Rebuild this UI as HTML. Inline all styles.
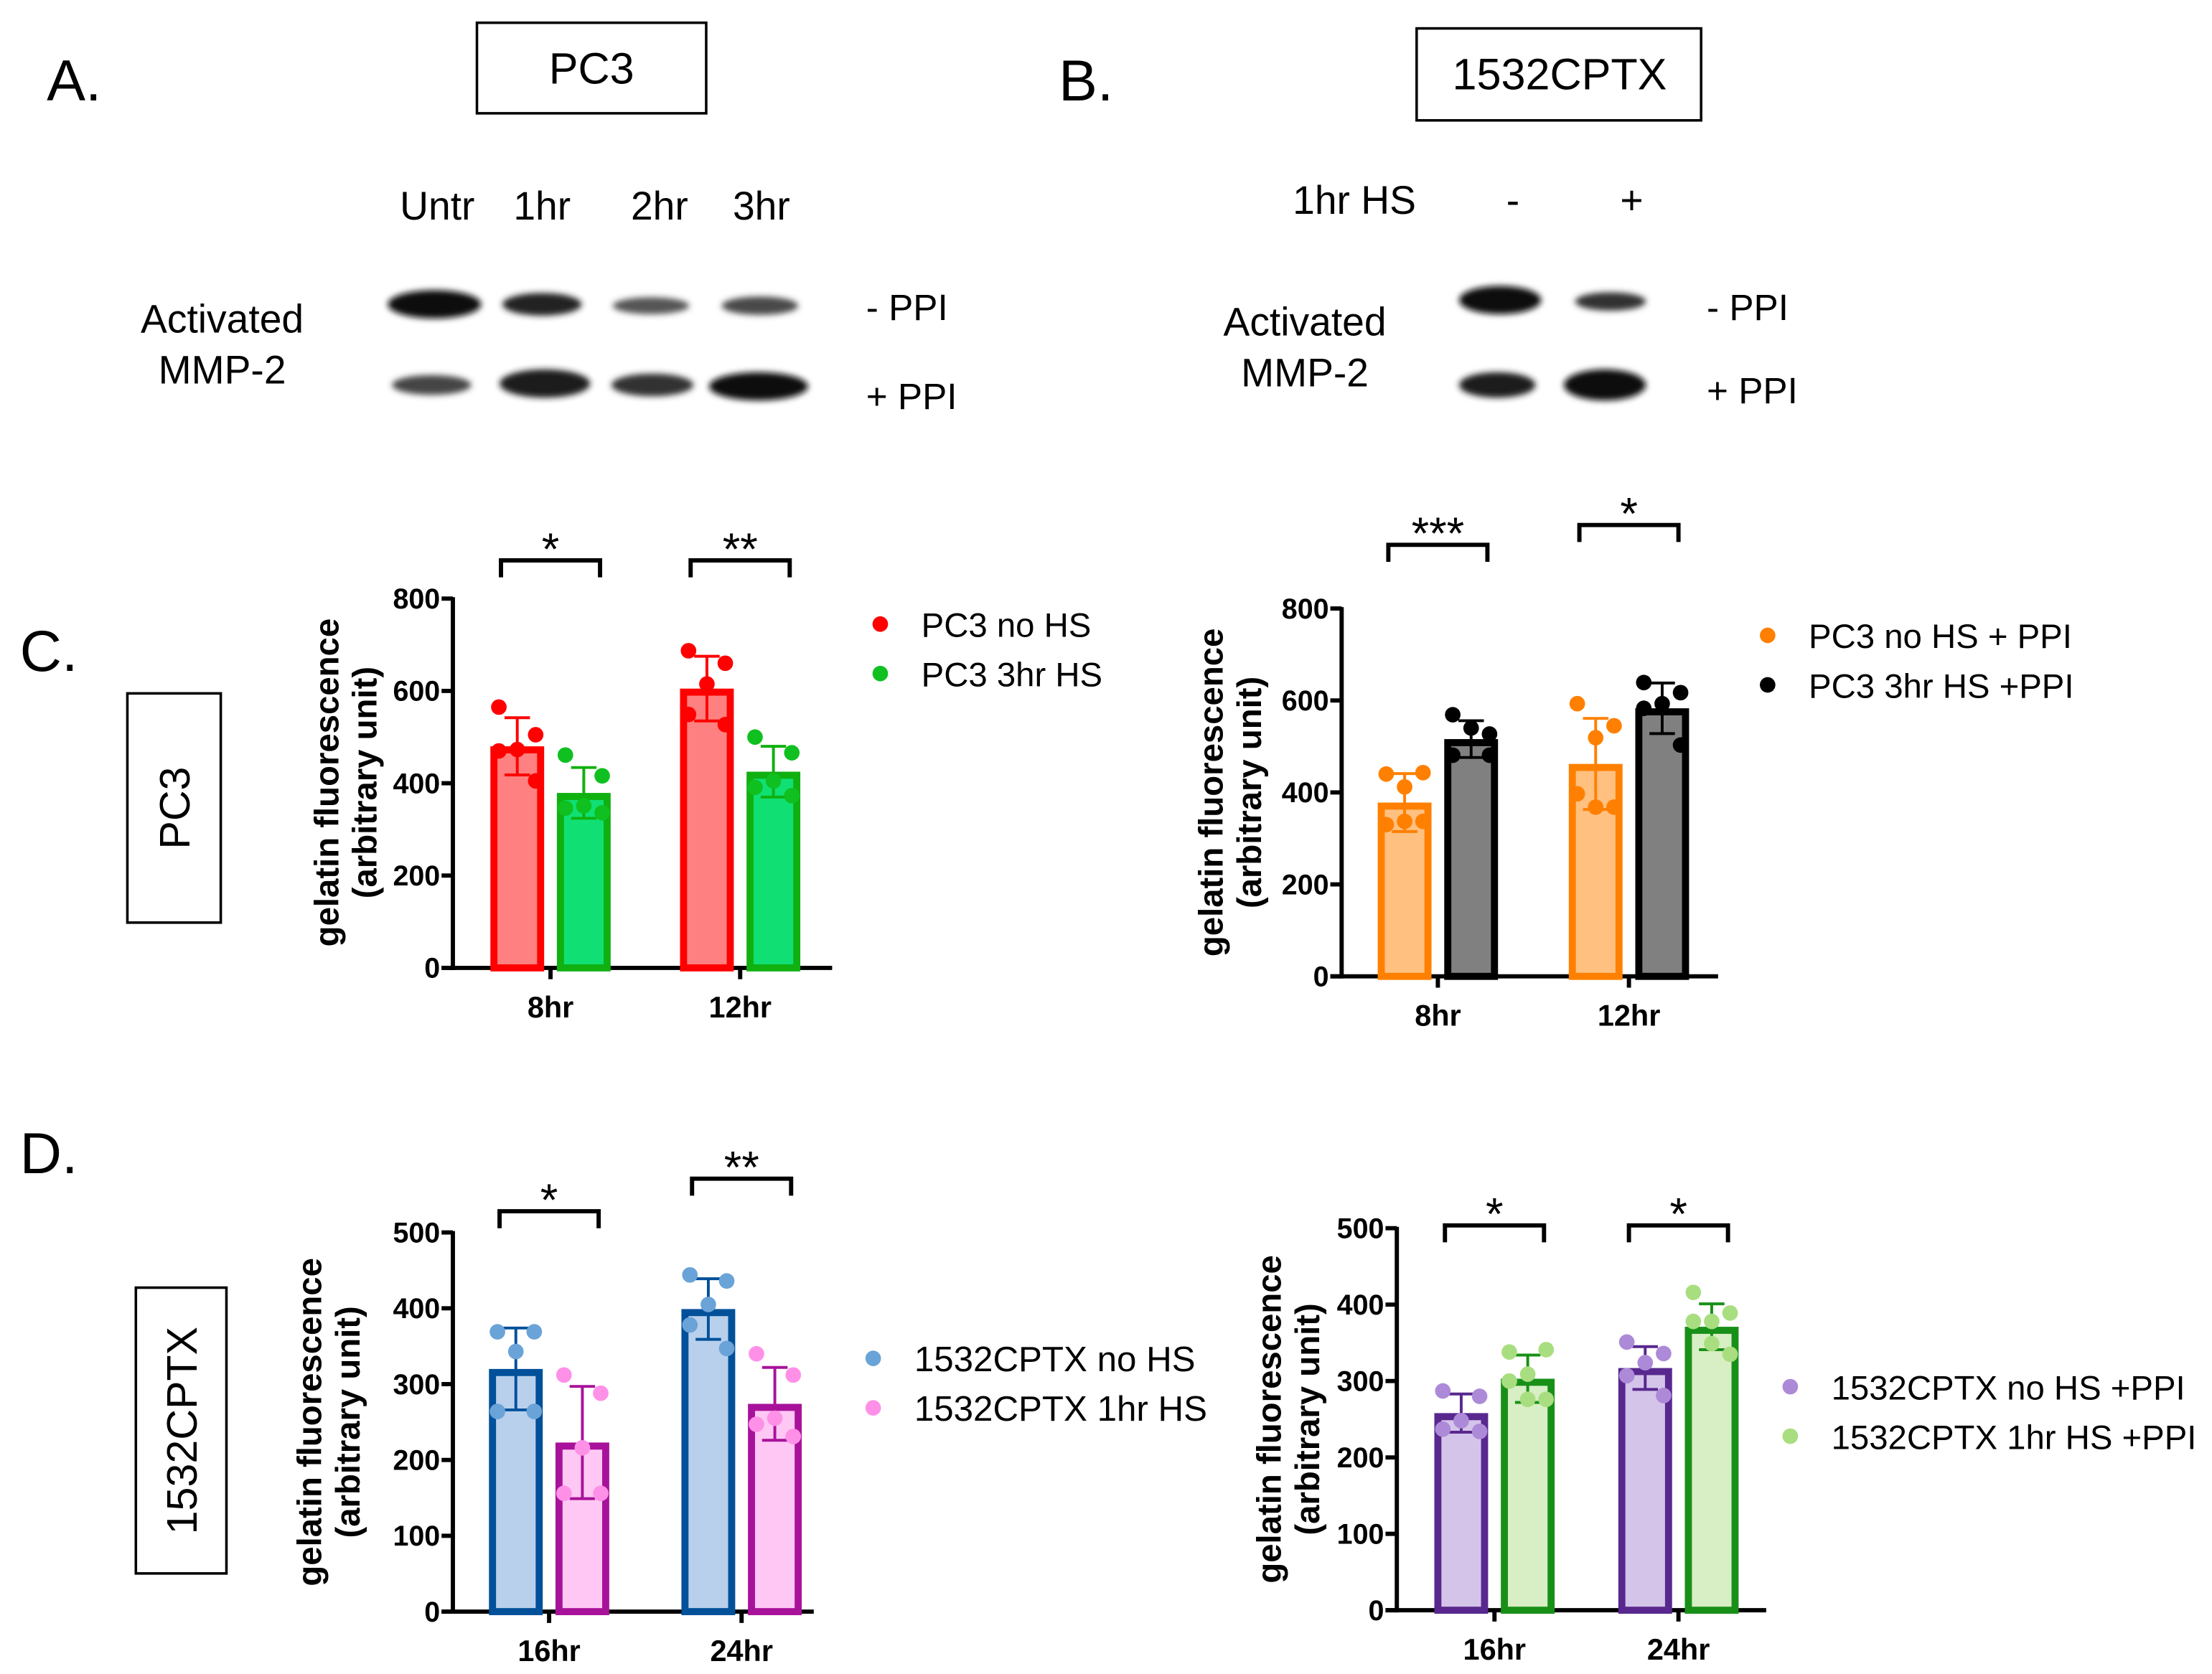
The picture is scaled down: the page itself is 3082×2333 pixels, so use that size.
<!DOCTYPE html>
<html><head><meta charset="utf-8"><style>
html,body{margin:0;padding:0;background:#fff;}
svg{display:block;font-family:"Liberation Sans",Arial,sans-serif;}
</style></head><body>
<svg id="fig" width="3082" height="2333" viewBox="0 0 1563 1183" xmlns="http://www.w3.org/2000/svg">
<defs>
<filter id="blur" x="-30%" y="-60%" width="160%" height="220%"><feGaussianBlur stdDeviation="2.2"/></filter>
</defs>
<g font-size="41" fill="#000">
<text x="33" y="71">A.</text>
<text x="748" y="71">B.</text>
<text x="14" y="474">C.</text>
<text x="14" y="829">D.</text>
</g>
<g>
<rect x="337" y="16" width="162" height="64" fill="none" stroke="#000" stroke-width="1.8"/>
<text x="418" y="59" font-size="31" text-anchor="middle">PC3</text>
</g>
<g>
<rect x="1001" y="20" width="201" height="65" fill="none" stroke="#000" stroke-width="1.8"/>
<text x="1102" y="63" font-size="31" text-anchor="middle">1532CPTX</text>
</g>
<g>
<rect x="90" y="490" width="66" height="162" fill="none" stroke="#000" stroke-width="1.8"/>
<text transform="translate(134,571) rotate(-90)" font-size="30" text-anchor="middle">PC3</text>
</g>
<g>
<rect x="96" y="910" width="64" height="202" fill="none" stroke="#000" stroke-width="1.8"/>
<text transform="translate(139,1011) rotate(-90)" font-size="30" text-anchor="middle">1532CPTX</text>
</g>
<g font-size="28" text-anchor="middle">
<text x="309" y="155">Untr</text><text x="383" y="155">1hr</text><text x="466" y="155">2hr</text><text x="538" y="155">3hr</text>
<text x="157" y="235">Activated</text><text x="157" y="271">MMP-2</text>
<text x="612" y="226" text-anchor="start" font-size="26">- PPI</text><text x="612" y="289" text-anchor="start" font-size="26">+ PPI</text>
</g>
<g font-size="28" text-anchor="middle">
<text x="957" y="151">1hr HS</text><text x="1069" y="151">-</text><text x="1153" y="151">+</text>
<text x="922" y="237">Activated</text><text x="922" y="273">MMP-2</text>
<text x="1206" y="226" text-anchor="start" font-size="26">- PPI</text><text x="1206" y="285" text-anchor="start" font-size="26">+ PPI</text>
</g>
<g filter="url(#blur)">
<ellipse cx="307" cy="215" rx="33" ry="10" fill="#111"/>
<ellipse cx="383" cy="215" rx="28" ry="8" fill="#222"/>
<ellipse cx="460" cy="216" rx="27" ry="6" fill="#555"/>
<ellipse cx="537" cy="216" rx="27" ry="6.5" fill="#4a4a4a"/>
<ellipse cx="305" cy="272" rx="28" ry="7" fill="#444"/>
<ellipse cx="385" cy="271" rx="32" ry="10" fill="#1a1a1a"/>
<ellipse cx="461" cy="272" rx="29" ry="8" fill="#333"/>
<ellipse cx="536" cy="273" rx="35" ry="10" fill="#111"/>
<ellipse cx="1060" cy="212" rx="29" ry="10" fill="#0d0d0d"/>
<ellipse cx="1138" cy="213" rx="25" ry="6.5" fill="#333"/>
<ellipse cx="1058" cy="272" rx="27" ry="9" fill="#1a1a1a"/>
<ellipse cx="1134" cy="272" rx="29" ry="11" fill="#0d0d0d"/>
</g>
<g id="charts"></g>
</svg>
<script>
// Panel C left (PC3)
const cLeftCategories = ["8hr", "12hr"];
const cLeftTicks = [0, 200, 400, 600, 800];
const cLeftNoHSMean = [480, 605];
const cLeftNoHSSD = [62, 70];
const cLeftNoHSPoints = [[565, 505, 473, 470, 405], [687, 660, 615, 549, 527]];
const cLeftHSMean = [379, 425];
const cLeftHSSD = [55, 55];
const cLeftHSPoints = [[461, 416, 351, 346, 336], [500, 466, 405, 391, 373]];
// Panel C right (PC3 + PPI)
const cRightCategories = ["8hr", "12hr"];
const cRightTicks = [0, 200, 400, 600, 800];
const cRightNoHSMean = [378, 462];
const cRightNoHSSD = [63, 99];
const cRightNoHSPoints = [[440, 443, 412, 330, 337, 337], [593, 545, 519, 397, 368, 368]];
const cRightHSMean = [516, 583];
const cRightHSSD = [40, 55];
const cRightHSPoints = [[569, 527, 540, 481, 481], [639, 617, 593, 583, 503]];
// Panel D left (1532CPTX)
const dLeftCategories = ["16hr", "24hr"];
const dLeftTicks = [0, 100, 200, 300, 400, 500];
const dLeftNoHSMean = [320, 399];
const dLeftNoHSSD = [54, 40];
const dLeftNoHSPoints = [[369, 369, 343, 264, 264], [444, 436, 405, 378, 347]];
const dLeftHSMean = [223, 274];
const dLeftHSSD = [74, 48];
const dLeftHSPoints = [[312, 288, 216, 156, 156], [340, 312, 255, 247, 231]];
// Panel D right (1532CPTX + PPI)
const dRightCategories = ["16hr", "24hr"];
const dRightTicks = [0, 100, 200, 300, 400, 500];
const dRightNoHSMean = [258, 317];
const dRightNoHSSD = [25, 28];
const dRightNoHSPoints = [[287, 280, 248, 237, 234], [351, 336, 324, 307, 281]];
const dRightHSMean = [303, 371];
const dRightHSSD = [31, 30];
const dRightHSPoints = [[338, 341, 309, 300, 276, 276], [416, 389, 378, 378, 349, 335]];

const NS = "http://www.w3.org/2000/svg";
const root = document.getElementById("charts");
function mk(tag, attrs, parent) {
  const e = document.createElementNS(NS, tag);
  for (const k in attrs) e.setAttribute(k, attrs[k]);
  (parent || root).appendChild(e);
  return e;
}
const jit5 = [-13, 13, 0, -13, 13];
const jit6 = [-13, 13, 0, -13, 0, 13];

function chart(cfg) {
  const g = mk("g", {});
  
  
  const yMax = cfg.ticks[cfg.ticks.length - 1];
  const y = v => cfg.y0 - (v / yMax) * (cfg.y0 - cfg.yTop);
  const xc = i => cfg.x0 + cfg.firstX + i * cfg.groupGap;
  const ya = mk("line", {x1: cfg.x0, y1: cfg.yTop - 1, x2: cfg.x0, y2: cfg.y0 + 1.5, stroke: "#000", "stroke-width": 3}, g);
  
  
  const xa = mk("line", {x1: cfg.x0 - 8, y1: cfg.y0, x2: cfg.xEnd, y2: cfg.y0, stroke: "#000", "stroke-width": 3}, g);
  
  
  cfg.ticks.forEach(t => {
    mk("line", {x1: cfg.x0 - 8, y1: y(t), x2: cfg.x0, y2: y(t), stroke: "#000", "stroke-width": 3}, g);
    const tl = mk("text", {x: cfg.x0 - 9, y: y(t) + 7, "font-size": 20, "font-weight": "bold", "text-anchor": "end"}, g);
    tl.textContent = t;
    
    
  });
  const bw = 38, gap = 9;
  cfg.cats.forEach((c, i) => {
    const cx = xc(i);
    mk("line", {x1: cx, y1: cfg.y0, x2: cx, y2: cfg.y0 + 8, stroke: "#000", "stroke-width": 3}, g);
    const xl = mk("text", {x: cx, y: cfg.y0 + 35, "font-size": 21, "font-weight": "bold", "text-anchor": "middle"}, g);
    xl.textContent = c;
    
    
    cfg.series.forEach((s, si) => {
      const left = si === 0 ? cx - gap / 2 - bw : cx + gap / 2;
      const bc = left + bw / 2;
      const top = y(s.mean[i]);
      const bar = mk("rect", {x: left + 2.5, y: top + 2.5, width: bw - 5, height: cfg.y0 - top - 2.5, fill: s.fill, stroke: s.stroke, "stroke-width": 5}, g);
      
      
      const hi = y(s.mean[i] + s.sd[i]), lo = y(s.mean[i] - s.sd[i]);
      const eb = mk("path", {d: `M${bc},${hi}V${lo}M${bc - 9},${hi}H${bc + 9}M${bc - 9},${lo}H${bc + 9}`, stroke: s.stroke, "stroke-width": 2, fill: "none"}, g);
      
      
      const pts = s.pts[i];
      const jit = pts.length === 6 ? jit6 : jit5;
      pts.forEach((p, pi) => {
        const dot = mk("circle", {cx: bc + jit[pi], cy: y(p), r: 5.5, fill: s.dot}, g);
        
        
      });
    });
  });
  cfg.sig.forEach((sg, i) => {
    const cx = xc(i);
    const br = mk("path", {d: `M${cx - 35},${sg.y + 12}V${sg.y}H${cx + 35}V${sg.y + 12}`, stroke: "#000", "stroke-width": 3, fill: "none"}, g);
    
    
    const st = mk("text", {x: cx, y: sg.y + 3, "font-size": 32, "text-anchor": "middle"}, g);
    st.textContent = sg.t;
    
    
  });
  const yt = mk("text", {transform: `translate(${cfg.ytx},${cfg.yty}) rotate(-90)`, "font-size": 24, "font-weight": "bold", "text-anchor": "middle"}, g);
  
  
  const t1 = mk("tspan", {x: 0, y: 0}, yt); t1.textContent = "gelatin fluorescence";
  const t2 = mk("tspan", {x: 0, y: 27}, yt); t2.textContent = "(arbitrary unit)";
  cfg.series.forEach((s, si) => {
    const ly = cfg.legY + si * 35;
    const ld = mk("circle", {cx: cfg.legX, cy: ly, r: 5.5, fill: s.dot}, g);
    
    
    const lt = mk("text", {x: cfg.legX + 29, y: ly + 9, "font-size": cfg.legFont}, g);
    lt.textContent = s.label;
    
    
  });
}

chart({name: "chart-pc3", x0: 320, xEnd: 588, y0: 684, yTop: 423, firstX: 69, groupGap: 134,
  ticks: cLeftTicks, cats: cLeftCategories, ytx: 239, yty: 553, legX: 622, legY: 441, legFont: 24,
  sig: [{y: 396, t: "*"}, {y: 396, t: "**"}],
  series: [
    {key: "pc3-no-hs", label: "PC3 no HS", mean: cLeftNoHSMean, sd: cLeftNoHSSD, pts: cLeftNoHSPoints, fill: "#ff8080", stroke: "#ff0000", dot: "#ff0000"},
    {key: "pc3-3hr-hs", label: "PC3 3hr HS", mean: cLeftHSMean, sd: cLeftHSSD, pts: cLeftHSPoints, fill: "#10e074", stroke: "#10b010", dot: "#10c020"}]});
chart({name: "chart-pc3-ppi", x0: 948, xEnd: 1214, y0: 690, yTop: 430, firstX: 68, groupGap: 135,
  ticks: cRightTicks, cats: cRightCategories, ytx: 864, yty: 560, legX: 1249, legY: 449, legFont: 24,
  sig: [{y: 385, t: "***"}, {y: 371, t: "*"}],
  series: [
    {key: "pc3-no-hs-ppi", label: "PC3 no HS + PPI", mean: cRightNoHSMean, sd: cRightNoHSSD, pts: cRightNoHSPoints, fill: "#ffc080", stroke: "#ff8000", dot: "#ff8000"},
    {key: "pc3-3hr-hs-ppi", label: "PC3 3hr HS +PPI", mean: cRightHSMean, sd: cRightHSSD, pts: cRightHSPoints, fill: "#808080", stroke: "#000", dot: "#000"}]});
chart({name: "chart-1532cptx", x0: 320, xEnd: 575, y0: 1139, yTop: 871, firstX: 68, groupGap: 136,
  ticks: dLeftTicks, cats: dLeftCategories, ytx: 227, yty: 1005, legX: 617, legY: 960, legFont: 25,
  sig: [{y: 856, t: "*"}, {y: 833, t: "**"}],
  series: [
    {key: "1532-no-hs", label: "1532CPTX no HS", mean: dLeftNoHSMean, sd: dLeftNoHSSD, pts: dLeftNoHSPoints, fill: "#b8d0ec", stroke: "#00509a", dot: "#6aa3d8"},
    {key: "1532-1hr-hs", label: "1532CPTX 1hr HS", mean: dLeftHSMean, sd: dLeftHSSD, pts: dLeftHSPoints, fill: "#ffc8f4", stroke: "#a8129a", dot: "#ff90e8"}]});
chart({name: "chart-1532cptx-ppi", x0: 987, xEnd: 1248, y0: 1138, yTop: 868, firstX: 69, groupGap: 130,
  ticks: dRightTicks, cats: dRightCategories, ytx: 905, yty: 1003, legX: 1265, legY: 980, legFont: 24,
  sig: [{y: 866, t: "*"}, {y: 866, t: "*"}],
  series: [
    {key: "1532-no-hs-ppi", label: "1532CPTX no HS +PPI", mean: dRightNoHSMean, sd: dRightNoHSSD, pts: dRightNoHSPoints, fill: "#d4c4ea", stroke: "#58288e", dot: "#ad8ad8"},
    {key: "1532-1hr-hs-ppi", label: "1532CPTX 1hr HS +PPI", mean: dRightHSMean, sd: dRightHSSD, pts: dRightHSPoints, fill: "#d8eec4", stroke: "#189018", dot: "#a8de80"}]});
</script>
</body></html>
